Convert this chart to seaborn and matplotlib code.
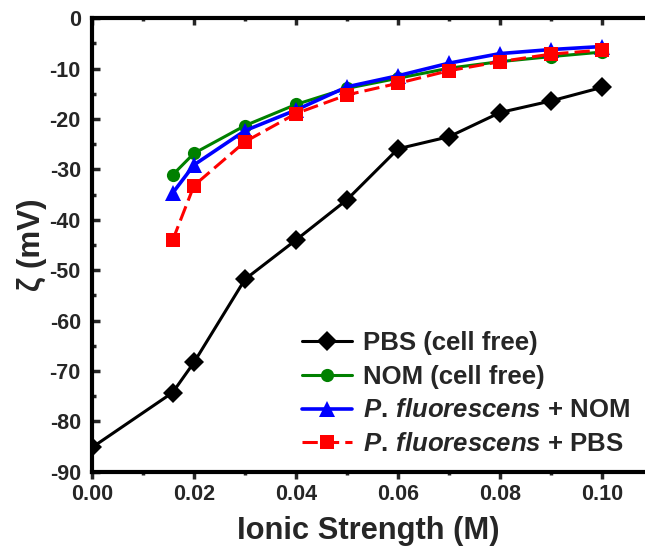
"""Zeta potential vs ionic strength, recreated with seaborn."""

import matplotlib
matplotlib.use("Agg")
import matplotlib.pyplot as plt
import matplotlib.ticker as mticker
from matplotlib.lines import TICKDOWN
import seaborn as sns
import pandas as pd

sns.set_theme(style="white")
plt.rcParams.update({
    "font.family": ["Liberation Sans", "DejaVu Sans"],
    "font.weight": "bold",
    "axes.unicode_minus": False,
    "mathtext.fontset": "custom",
    "mathtext.rm": "Liberation Sans:bold",
    "mathtext.it": "Liberation Sans:italic:bold",
    "mathtext.bf": "Liberation Sans:bold",
})

# data
ionic_pbs = [0.0, 0.0158, 0.02, 0.03, 0.04, 0.05, 0.06, 0.07, 0.08, 0.09, 0.10]
zeta_pbs = [-85.2, -74.3, -68.3, -51.8, -44.0, -36.0, -25.9, -23.5, -18.7, -16.4, -13.7]

ionic = [0.0158, 0.02, 0.03, 0.04, 0.05, 0.06, 0.07, 0.08, 0.09, 0.10]
zeta_nom = [-31.1, -26.8, -21.3, -17.1, -13.9, -11.9, -9.9, -8.6, -7.6, -6.7]
zeta_pf_nom = [-34.7, -29.1, -22.3, -18.2, -13.6, -11.4, -8.9, -7.0, -6.2, -5.6]
zeta_pf_pbs = [-44.1, -33.2, -24.5, -18.9, -15.2, -12.9, -10.4, -8.6, -7.1, -6.3]

labels = [
    "PBS (cell free)",
    "NOM (cell free)",
    r"$\mathit{P.\,fluorescens}$ + NOM",
    r"$\mathit{P.\,fluorescens}$ + PBS",
]

fig = plt.figure(figsize=(6.45, 5.58), dpi=100)
ax = fig.add_axes([0.1426, 0.1547, 0.8574, 0.8125])

series = [
    (ionic_pbs, zeta_pbs, labels[0], "black", "D", 10, "-", 2.2),
    (ionic, zeta_nom, labels[1], "#008000", "o", 9.5, "-", 2.2),
    (ionic, zeta_pf_nom, labels[2], "#0000ff", "^", 11, "-", 2.6),
    (ionic, zeta_pf_pbs, labels[3], "#ff0000", "s", 9.5, (0, (5, 2)), 2.2),
]

for x, y, lab, col, mk, ms, ls, lw in series:
    df = pd.DataFrame({"x": x, "y": y})
    sns.lineplot(
        data=df, x="x", y="y", ax=ax, color=col, marker=mk, markersize=ms,
        markeredgewidth=0, linestyle=ls, linewidth=lw, label=lab,
    )

ax.set_xlim(0, 0.1084)
ax.set_ylim(-90, 0)
ax.xaxis.set_major_locator(mticker.MultipleLocator(0.02))
ax.xaxis.set_minor_locator(mticker.MultipleLocator(0.01))
ax.yaxis.set_major_locator(mticker.MultipleLocator(10))
ax.yaxis.set_minor_locator(mticker.MultipleLocator(5))
ax.xaxis.set_major_formatter(mticker.FormatStrFormatter("%.2f"))

for side in ["left", "bottom", "top"]:
    ax.spines[side].set_linewidth(3)
    ax.spines[side].set_color("black")
ax.spines["right"].set_visible(False)

ax.tick_params(axis="x", which="both", bottom=True, top=True, direction="out",
               width=2.5, labelsize=15.5, pad=4)
ax.tick_params(axis="x", which="major", length=5)
ax.tick_params(axis="x", which="minor", length=2.5)
ax.tick_params(axis="y", which="both", left=True, direction="in",
               width=2.5, labelsize=15.5, pad=8)
ax.tick_params(axis="y", which="major", length=6)
ax.tick_params(axis="y", which="minor", length=3)
# top ticks point into the plot, bottom ticks point out
for t in ax.xaxis.get_major_ticks() + ax.xaxis.get_minor_ticks():
    t.tick2line.set_marker(TICKDOWN)

ax.set_xlabel("Ionic Strength (M)", fontsize=22.2, fontweight="bold", labelpad=8)
ax.set_ylabel("ζ (mV)", fontsize=22.5, fontweight="bold", labelpad=2)

leg = ax.legend(
    loc="lower right", bbox_to_anchor=(1.0, 0.0), frameon=False,
    fontsize=18.5, handlelength=1.95, handletextpad=0.4, labelspacing=0.38,
    borderaxespad=0.2,
)

fig.savefig("out.png", dpi=100)
plt.close(fig)
